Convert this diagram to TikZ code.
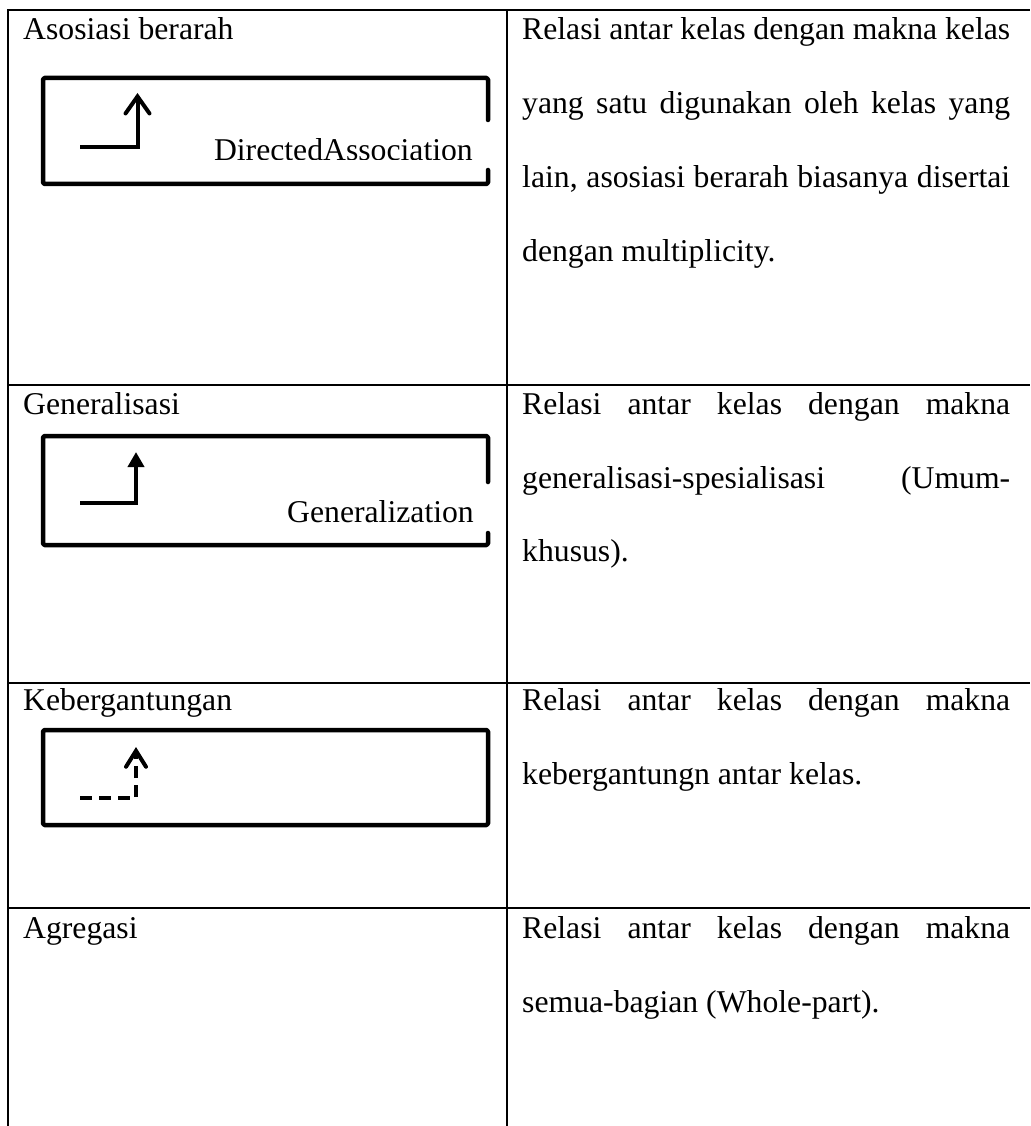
\documentclass[tikz,border=0pt]{standalone}
\usepackage{fontspec}
\setmainfont{Liberation Serif}
\usetikzlibrary{arrows.meta}
% a justified line of the description column
\newcommand\jline[1]{\makebox[488pt][s]{#1}}
\begin{document}
\begin{tikzpicture}[x=1pt,y=-1pt,
  grid/.style={line width=2pt},
  frame/.style={line width=4.5pt, line cap=round, line join=round, rounded corners=1.5pt},
  icon/.style={line width=4pt},
  txt/.style={anchor=base west, inner sep=0pt, font=\fontsize{31.7}{38}\selectfont},
  lbl/.style={anchor=base east, inner sep=0pt, font=\fontsize{31.7}{38}\selectfont},
]
\useasboundingbox (0,0) rectangle (1030,1126);

% table rules
\draw[grid] (8,1126) -- (8,10) -- (1030,10);
\draw[grid] (507,10) -- (507,1126);
\foreach \y in {385,683,908} \draw[grid] (8,\y) -- (1030,\y);

% row 1: directed association
\node[txt] (name1) at (23,40) {Asosiasi berarah};
\draw[frame] (488,120) -- (488,78) -- (43,78) -- (43,184) -- (488,184) -- (488,170);
\coordinate (s1) at (80,147);
\coordinate (t1) at (137.5,93);
\draw[icon, -{Straight Barb[length=17pt,width=24pt,line cap=round]}] (s1) -| (t1);
\begin{scope}
  \clip (45,80) rectangle (486,159.5);
  \node[lbl] (sym1) at (473,161) {DirectedAssociation};
\end{scope}
\node[txt] (d1a) at (522,40) {\jline{Relasi antar kelas dengan makna kelas}};
\node[txt] (d1b) at (522,114) {\jline{yang satu digunakan oleh kelas yang}};
\node[txt] (d1c) at (522,187) {\jline{lain, asosiasi berarah biasanya disertai}};
\node[txt] (d1d) at (522,261) {dengan multiplicity.};

% row 2: generalization
\node[txt] (name2) at (23,414) {Generalisasi};
\draw[frame] (488,482) -- (488,436) -- (43,436) -- (43,545) -- (488,545) -- (488,533);
\coordinate (s2) at (80,503);
\coordinate (t2) at (136,452);
\draw[icon, -{Triangle[length=15pt,width=16pt]}] (s2) -| (t2);
\node[lbl] (sym2) at (474,522) {Generalization};
\node[txt] (d2a) at (522,414) {\jline{Relasi antar kelas dengan makna}};
\node[txt] (d2b) at (522,488) {\jline{generalisasi-spesialisasi (Umum-}};
\node[txt] (d2c) at (522,561) {khusus).};

% row 3: dependency
\node[txt] (name3) at (23,710) {Kebergantungan};
\draw[frame] (43,730) rectangle (488,825);
\coordinate (s3) at (80,798);
\coordinate (t3) at (136,747);
\draw[icon, dash pattern=on 12pt off 7pt, -{Straight Barb[length=16pt,width=20pt,line cap=round]}] (s3) -| (t3);
\node[txt] (d3a) at (522,710) {\jline{Relasi antar kelas dengan makna}};
\node[txt] (d3b) at (522,784) {kebergantungn antar kelas.};

% row 4: aggregation
\node[txt] (name4) at (23,938) {Agregasi};
\node[txt] (d4a) at (522,938) {\jline{Relasi antar kelas dengan makna}};
\node[txt] (d4b) at (522,1012) {semua-bagian (Whole-part).};
\end{tikzpicture}
\end{document}
